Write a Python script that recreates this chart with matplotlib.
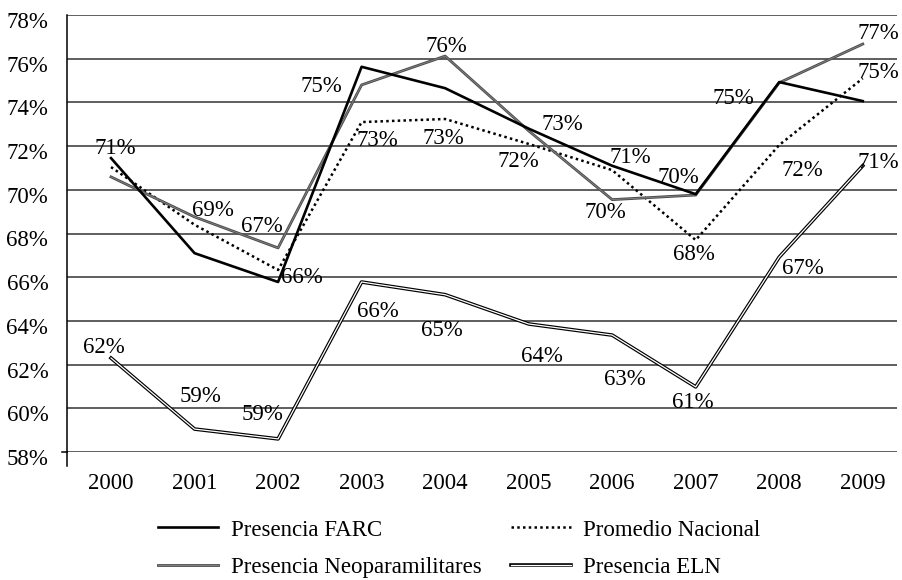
import matplotlib.pyplot as plt
import matplotlib.patheffects as pe
import matplotlib.transforms as mtransforms
import numpy as np

plt.rcParams['font.family'] = ['Liberation Serif', 'DejaVu Serif']

years = ['2000', '2001', '2002', '2003', '2004', '2005', '2006', '2007', '2008', '2009']
farc = [71.45, 67.1, 65.78, 75.63, 74.65, 72.8, 71.1, 69.8, 74.93, 74.06]
promedio = [71.04, 68.4, 66.33, 73.1, 73.24, 72.1, 70.9, 67.7, 72.05, 75.1]
neo = [70.59, 68.76, 67.34, 74.8, 76.12, 72.7, 69.55, 69.76, 74.9, 76.67]
eln = [62.3, 59.05, 58.6, 65.78, 65.2, 63.86, 63.35, 60.98, 66.92, 71.1]
y_ticks = [58, 60, 62, 64, 66, 68, 70, 72, 74, 76, 78]

# label offsets in pixels (dx, dy), None = no label shown
off_farc = [(4, 10), None, (24, 5), None, None, (34, 4), (18, 8), (-17, 17), (-46, -16), None]
off_prom = [None, None, None, (16, -18), (-2, -19), (-10, -18), None, (-2, -14), (23, -25), (16, 6)]
off_neo = [None, (18, 6), (-16, 21), (-40, -2), (1, 10), None, (-7, -13), None, None, (16, 11)]
off_eln = [(-7, 11), (6, 33), (-16, 24), (16, -29), (-3, -36), (13, -33), (13, -44), (-3, -16), (24, -11), (16, 3)]

fs = 16.5

fig = plt.figure(figsize=(9.02, 5.8), dpi=100)
ax = fig.add_axes([67 / 902, 1 - 452 / 580, 830 / 902, 437 / 580])
x = np.arange(len(years))

ax.plot(x, farc, color='black', lw=1.9, label='Presencia FARC', zorder=4)
ax.plot(x, promedio, color='black', lw=1.8, ls=(0, (1, 1.3)), label='Promedio Nacional', zorder=3)
ax.plot(x, neo, color='#808080', lw=0.7, label='Presencia Neoparamilitares', zorder=3,
        path_effects=[pe.Stroke(linewidth=2.0, foreground='#4a4a4a'), pe.Normal()])
ax.plot(x, eln, color='white', lw=0.9, label='Presencia ELN', zorder=3,
        path_effects=[pe.Stroke(linewidth=2.6, foreground='black'), pe.Normal()])

for vals, offs in [(farc, off_farc), (promedio, off_prom), (neo, off_neo), (eln, off_eln)]:
    for i, (v, o) in enumerate(zip(vals, offs)):
        if o is None:
            continue
        ax.annotate(f'{round(v)}%', (x[i], v), xytext=o, textcoords='offset pixels',
                    ha='center', va='center', fontsize=fs, zorder=5)

ax.set_xlim(-0.527, 9.41)
ax.set_ylim(58, 78)
ax.set_yticks(y_ticks)
ax.set_yticklabels([f'{t}%' for t in y_ticks])
ax.set_xticks(x)
ax.set_xticklabels(years)
ax.tick_params(axis='y', length=0, pad=13.5, labelsize=fs)
ax.tick_params(axis='x', length=0, pad=15, labelsize=fs)
# y labels sit a little below their gridlines
shift = mtransforms.ScaledTranslation(0, -5 / 100, fig.dpi_scale_trans)
for lab in ax.get_yticklabels():
    lab.set_transform(lab.get_transform() + shift)
for t in y_ticks:
    ax.axhline(t, color='#333333', lw=1.1, zorder=1)
for s in ['top', 'right', 'bottom']:
    ax.spines[s].set_visible(False)
ax.spines['left'].set_linewidth(1.1)
ax.plot([0, 0], [0, -0.032], transform=ax.transAxes, color='black', lw=1.1, clip_on=False)
ax.plot([-0.006, 0], [0, 0], transform=ax.transAxes, color='black', lw=1.1, clip_on=False)

h, l = ax.get_legend_handles_labels()
order = [0, 2, 1, 3]
fig.legend([h[i] for i in order], [l[i] for i in order], ncol=2, frameon=False,
           loc='upper left', bbox_to_anchor=(147 / 902, 1 - 508 / 580), borderpad=0,
           fontsize=fs, handlelength=2.6, handletextpad=0.55, columnspacing=1.3,
           labelspacing=0.72)

fig.savefig('out.png', dpi=100)
